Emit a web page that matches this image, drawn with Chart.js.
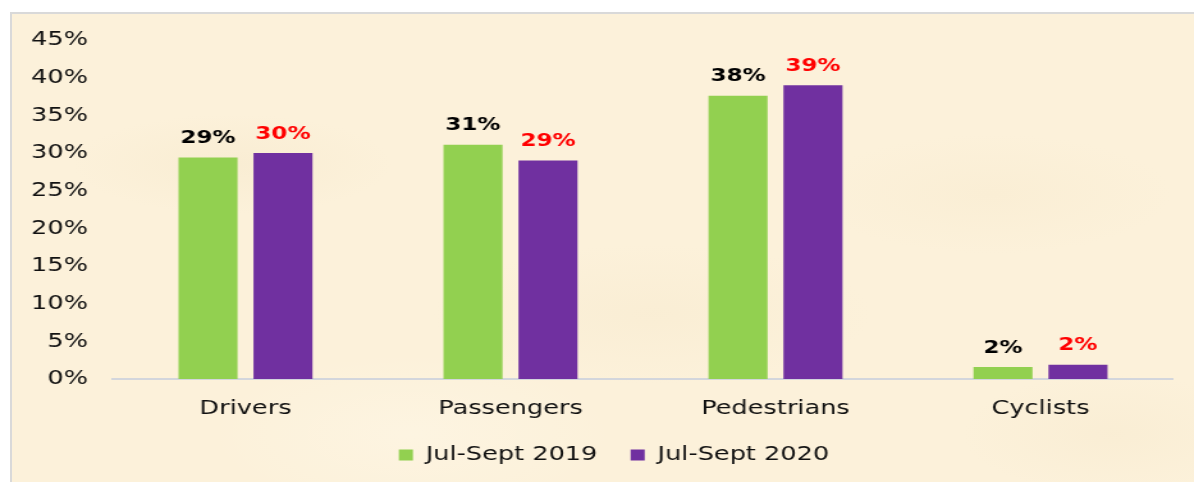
<!DOCTYPE html>
<html>
<head>
<meta charset="utf-8">
<script src="https://cdn.jsdelivr.net/npm/chart.js@4/dist/chart.umd.min.js"></script>
<style>
  html, body { margin: 0; padding: 0; background: #fff; overflow: hidden; }
  body { width: 1194px; height: 482px; position: relative; }
  #frame {
    position: absolute; left: 10px; top: 12px; right: -4px; bottom: -4px;
    border: 2px solid #d9d9d9;
    background-color: #fcf1da;
    background-image:
      radial-gradient(ellipse 160px 50px at 220px 150px, rgba(240,224,190,0.25), transparent),
      radial-gradient(ellipse 220px 70px at 640px 300px, rgba(240,224,190,0.2), transparent),
      radial-gradient(ellipse 180px 60px at 980px 180px, rgba(242,226,192,0.2), transparent),
      radial-gradient(ellipse 200px 80px at 400px 420px, rgba(255,250,238,0.35), transparent),
      radial-gradient(ellipse 150px 60px at 1100px 420px, rgba(240,224,190,0.2), transparent);
  }
  #wrap {
    position: absolute; left: 0; top: 0; width: 933px; height: 482px;
    transform: scaleX(1.2797); transform-origin: 0 0;
  }
</style>
</head>
<body>
<div id="frame"></div>
<div id="wrap"><canvas id="chart" width="933" height="482"></canvas></div>
<script>
const categories = ['Drivers', 'Passengers', 'Pedestrians', 'Cyclists'];
const seriesNames = ['Jul-Sept 2019', 'Jul-Sept 2020'];
const values2019 = [29.4, 31.1, 37.6, 1.6];
const values2020 = [30.0, 29.0, 39.0, 1.9];
const labelColors = ['#000000', '#ff0000'];

const FONT = "'DejaVu Sans', Verdana, sans-serif";

// bar value labels ("29%") drawn just above each bar
const valueLabels = {
  id: 'valueLabels',
  afterDatasetsDraw(chart) {
    const ctx = chart.ctx;
    ctx.save();
    ctx.font = `bold 18px ${FONT}`;
    ctx.textAlign = 'center';
    ctx.textBaseline = 'middle';
    chart.data.datasets.forEach((ds, i) => {
      ctx.fillStyle = labelColors[i];
      chart.getDatasetMeta(i).data.forEach((bar, j) => {
        ctx.fillText(Math.round(ds.data[j]) + '%', bar.x, bar.y - 19);
      });
    });
    ctx.restore();
  }
};

// legend sits a little right of the centre of the canvas
const legendShift = {
  id: 'legendShift',
  afterLayout(chart) {
    const lg = chart.legend;
    lg.left += 21.5;
    lg.right += 21.5;
  }
};

new Chart(document.getElementById('chart').getContext('2d'), {
  type: 'bar',
  data: {
    labels: categories,
    datasets: [
      { label: seriesNames[0], data: values2019, backgroundColor: '#92d050', borderWidth: 0 },
      { label: seriesNames[1], data: values2020, backgroundColor: '#7030a0', borderWidth: 0 }
    ]
  },
  options: {
    responsive: false,
    animation: false,
    categoryPercentage: 0.566,
    barPercentage: 0.787,
    layout: { padding: { left: 0, right: 16.4, top: 40, bottom: 7 } },
    plugins: {
      tooltip: { enabled: false },
      legend: {
        position: 'bottom',
        labels: { boxWidth: 11, boxHeight: 11, padding: 26, color: '#111', font: { family: FONT, size: 20 } }
      }
    },
    scales: {
      x: {
        grid: { display: false, drawTicks: false },
        border: { display: true, color: '#d3d6dc', width: 2 },
        ticks: { color: '#111', padding: 18, font: { family: FONT, size: 20 } },
        afterFit: (s) => { s.height = 40; }
      },
      y: {
        min: 0, max: 45,
        grid: { display: false, drawTicks: false },
        border: { display: false },
        ticks: { stepSize: 5, padding: 19.5, color: '#111', font: { family: FONT, size: 20 }, callback: (v) => v + '%' },
        afterFit: (s) => { s.width = 88.3; }
      }
    }
  },
  plugins: [valueLabels, legendShift]
});
</script>
</body>
</html>
